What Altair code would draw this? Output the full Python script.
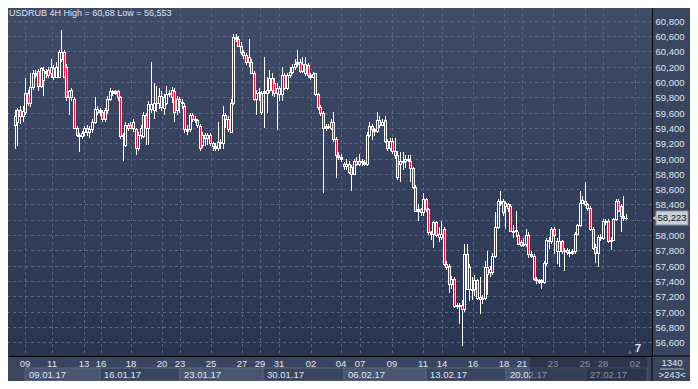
import altair as alt
import pandas as pd

# ---- candles: (open, high, low, close), 4H bars, grouped by week ----
jan09 = [
    (59.55, 59.63, 59.12, 59.44), (59.48, 59.66, 59.16, 59.63), (59.63, 59.68, 59.45, 59.55),
    (59.55, 59.69, 59.48, 59.62), (59.61, 60.05, 59.57, 59.85), (59.85, 59.90, 59.68, 59.73),
    (59.73, 60.12, 59.67, 59.94), (59.94, 60.15, 59.90, 60.11), (60.11, 60.16, 60.05, 60.09),
    (60.14, 60.17, 59.88, 59.95), (59.95, 60.20, 59.92, 60.18), (60.02, 60.20, 59.82, 60.16),
    (60.14, 60.17, 60.05, 60.12), (60.16, 60.20, 60.05, 60.09), (60.11, 60.30, 60.05, 60.20),
    (60.18, 60.22, 60.02, 60.07), (60.07, 60.26, 60.05, 60.20), (60.07, 60.42, 60.05, 60.39),
    (60.30, 60.68, 60.26, 60.39), (60.39, 60.42, 60.05, 60.07), (60.20, 60.24, 59.75, 59.80),
    (59.80, 59.90, 59.57, 59.88), (59.90, 59.92, 59.75, 59.80), (59.78, 59.80, 59.38, 59.40),
    (59.40, 59.42, 59.28, 59.31), (59.31, 59.33, 59.08, 59.29), (59.29, 59.36, 59.25, 59.33),
    (59.35, 59.42, 59.30, 59.40), (59.40, 59.44, 59.30, 59.35), (59.35, 59.43, 59.27, 59.38),
    (59.38, 59.52, 59.33, 59.48), (59.48, 59.80, 59.45, 59.65), (59.65, 59.68, 59.57, 59.61),
]
jan16 = [
    (59.61, 59.66, 59.55, 59.63), (59.61, 59.63, 59.48, 59.52), (59.52, 59.66, 59.48, 59.63),
    (59.63, 59.82, 59.58, 59.78), (59.78, 59.92, 59.75, 59.88), (59.88, 59.90, 59.82, 59.86),
    (59.86, 59.90, 59.83, 59.88), (59.88, 59.90, 59.75, 59.80), (59.80, 59.82, 59.25, 59.29),
    (59.29, 59.33, 58.97, 59.31), (59.18, 59.48, 59.15, 59.44), (59.44, 59.46, 59.36, 59.40),
    (59.44, 59.48, 59.38, 59.40), (59.40, 59.52, 59.35, 59.48), (59.38, 59.40, 59.05, 59.14),
    (59.14, 59.35, 59.10, 59.31), (59.31, 59.44, 59.25, 59.40), (59.29, 59.61, 59.27, 59.57),
    (59.57, 59.60, 59.18, 59.40), (59.40, 59.75, 59.18, 59.71), (59.65, 60.26, 59.60, 59.71),
    (59.63, 59.99, 59.52, 59.73), (59.73, 59.95, 59.61, 59.72), (59.72, 59.92, 59.65, 59.82),
    (59.82, 59.88, 59.62, 59.67), (59.66, 59.84, 59.57, 59.80), (59.73, 59.95, 59.70, 59.84),
    (59.84, 59.90, 59.80, 59.86), (59.90, 59.93, 59.72, 59.80), (59.88, 59.92, 59.48, 59.61),
    (59.63, 59.82, 59.57, 59.78),
]
jan23 = [
    (59.78, 59.80, 59.60, 59.75), (59.74, 59.78, 59.65, 59.72), (59.69, 59.72, 59.33, 59.38),
    (59.38, 59.44, 59.31, 59.36), (59.38, 59.60, 59.34, 59.57), (59.57, 59.60, 59.48, 59.52),
    (59.52, 59.56, 59.46, 59.50), (59.50, 59.52, 59.40, 59.44), (59.42, 59.45, 59.10, 59.14),
    (59.18, 59.35, 59.14, 59.31), (59.31, 59.33, 59.16, 59.27), (59.27, 59.33, 59.18, 59.31),
    (59.31, 59.33, 59.16, 59.20), (59.20, 59.22, 59.10, 59.16), (59.16, 59.20, 59.10, 59.14),
    (59.14, 59.48, 59.10, 59.22), (59.22, 59.25, 59.12, 59.20), (59.20, 59.69, 59.12, 59.57),
    (59.57, 59.60, 59.40, 59.52), (59.52, 59.55, 59.35, 59.38), (59.35, 59.78, 59.33, 59.73),
    (59.73, 60.62, 59.70, 60.58), (60.58, 60.62, 60.52, 60.56), (60.56, 60.60, 60.45, 60.47),
    (60.47, 60.52, 60.35, 60.39), (60.39, 60.42, 60.30, 60.35), (60.35, 60.38, 60.22, 60.26),
    (60.26, 60.56, 60.20, 60.33), (60.26, 60.30, 60.10, 60.12), (60.12, 60.14, 59.75, 59.78),
    (59.78, 59.90, 59.57, 59.86), (59.86, 59.92, 59.75, 59.87),
]
jan30 = [
    (59.86, 59.88, 59.57, 59.61), (59.86, 60.33, 59.40, 59.88), (59.86, 60.07, 59.59, 59.90),
    (59.90, 60.15, 59.86, 60.05), (60.05, 60.12, 59.82, 59.90), (59.99, 60.05, 59.80, 59.86),
    (59.86, 59.98, 59.37, 59.92), (59.92, 59.95, 59.75, 59.84), (59.84, 60.20, 59.75, 60.09),
    (60.09, 60.12, 59.90, 59.92), (59.92, 60.12, 59.90, 60.09), (60.09, 60.20, 60.05, 60.13),
    (60.13, 60.24, 60.10, 60.20), (60.20, 60.30, 60.15, 60.24), (60.24, 60.42, 60.20, 60.26),
    (60.26, 60.30, 60.12, 60.14), (60.14, 60.33, 60.12, 60.24), (60.24, 60.33, 60.08, 60.11),
    (60.22, 60.25, 60.05, 60.09), (60.09, 60.12, 60.03, 60.07), (60.07, 60.13, 60.05, 60.10),
    (60.11, 60.12, 59.82, 59.84), (59.84, 59.86, 59.63, 59.67), (59.67, 59.70, 59.55, 59.59),
    (59.59, 59.62, 58.55, 59.40), (59.40, 59.45, 59.36, 59.42), (59.42, 59.45, 59.38, 59.41),
    (59.40, 59.52, 59.37, 59.48), (59.48, 59.61, 59.22, 59.25), (59.25, 59.28, 58.74, 59.04),
    (59.04, 59.08, 58.98, 59.02), (59.02, 59.06, 58.96, 59.00),
]
feb06 = [
    (58.93, 58.95, 58.85, 58.90), (58.90, 59.00, 58.85, 58.93), (58.93, 58.97, 58.80, 58.83),
    (58.89, 58.91, 58.57, 58.80), (58.80, 59.00, 58.78, 58.97), (58.97, 59.02, 58.90, 58.93),
    (58.93, 59.06, 58.90, 58.97), (58.97, 58.99, 58.90, 58.95), (58.95, 58.98, 58.90, 58.93),
    (58.93, 59.34, 58.90, 59.31), (59.31, 59.48, 59.28, 59.42), (59.42, 59.45, 59.24, 59.38),
    (59.38, 59.40, 59.30, 59.36), (59.36, 59.61, 59.33, 59.50), (59.50, 59.55, 59.40, 59.44),
    (59.44, 59.52, 59.42, 59.48), (59.50, 59.55, 59.20, 59.23), (59.23, 59.25, 59.10, 59.14),
    (59.14, 59.27, 59.10, 59.23), (59.23, 59.27, 59.06, 59.10), (59.10, 59.27, 59.00, 59.04),
    (59.04, 59.10, 58.72, 58.76), (58.93, 59.08, 58.70, 58.97), (58.95, 59.08, 58.85, 58.97),
    (58.97, 59.04, 58.87, 59.00), (59.00, 59.04, 58.95, 58.98), (58.97, 59.04, 58.70, 58.87),
    (58.87, 58.89, 58.60, 58.63), (58.63, 58.65, 58.30, 58.32), (58.32, 58.40, 58.19, 58.34),
    (58.34, 58.36, 58.25, 58.30), (58.30, 58.55, 58.25, 58.47),
]
feb13 = [
    (58.47, 58.49, 58.30, 58.34), (58.34, 58.36, 58.00, 58.04), (58.04, 58.06, 57.94, 58.02),
    (58.02, 58.19, 57.83, 58.17), (58.17, 58.19, 57.98, 58.00), (58.02, 58.11, 57.91, 57.98),
    (57.98, 58.19, 57.94, 58.02), (58.08, 58.11, 57.60, 57.62), (57.62, 57.66, 57.55, 57.58),
    (57.60, 57.62, 57.24, 57.36), (57.36, 57.47, 57.30, 57.43), (57.43, 57.45, 57.05, 57.07),
    (57.07, 57.12, 57.03, 57.09), (57.09, 57.11, 56.84, 57.07), (57.09, 57.15, 56.553, 57.03),
    (57.03, 57.88, 57.00, 57.75), (57.75, 57.89, 57.28, 57.30), (57.30, 57.62, 57.14, 57.58),
    (57.30, 57.45, 57.15, 57.28), (57.30, 57.48, 57.20, 57.41), (57.41, 57.43, 57.15, 57.18),
    (57.19, 57.45, 56.97, 57.16), (57.16, 57.22, 57.10, 57.18), (57.18, 57.66, 57.15, 57.58),
    (57.58, 57.79, 57.22, 57.49), (57.56, 57.60, 57.45, 57.52), (57.52, 57.77, 57.48, 57.73),
    (57.73, 58.30, 57.70, 58.11), (58.11, 58.47, 58.08, 58.44), (58.44, 58.57, 58.38, 58.42),
    (58.44, 58.47, 58.25, 58.30),
]
feb20 = [
    (58.42, 58.44, 58.08, 58.38), (58.40, 58.42, 58.30, 58.36), (58.38, 58.40, 58.04, 58.06),
    (58.06, 58.13, 57.96, 58.04), (58.05, 58.32, 57.98, 58.07), (58.00, 58.04, 57.87, 57.89),
    (57.91, 57.93, 57.85, 57.87), (57.87, 57.96, 57.85, 57.89), (57.89, 58.08, 57.85, 58.00),
    (58.00, 58.04, 57.70, 57.75), (57.75, 57.79, 57.70, 57.73), (57.73, 57.75, 57.40, 57.43),
    (57.43, 57.45, 57.36, 57.41), (57.41, 57.43, 57.36, 57.39), (57.39, 57.43, 57.30, 57.41),
    (57.39, 57.66, 57.36, 57.64), (57.64, 57.96, 57.60, 57.94), (57.94, 57.98, 57.82, 57.92),
    (57.92, 58.10, 57.89, 58.08), (58.08, 58.10, 57.75, 58.00), (57.92, 57.96, 57.62, 57.79),
    (57.79, 58.08, 57.58, 57.92), (57.92, 57.94, 57.75, 57.79), (57.79, 57.83, 57.53, 57.81),
    (57.81, 57.83, 57.74, 57.78), (57.78, 57.82, 57.72, 57.77), (57.77, 57.82, 57.74, 57.79),
    (57.79, 58.04, 57.76, 58.02), (58.02, 58.15, 58.00, 58.13), (58.13, 58.57, 58.10, 58.42),
    (58.42, 58.51, 58.40, 58.46),
]
feb27 = [
    (58.44, 58.70, 58.38, 58.40), (58.40, 58.42, 58.32, 58.36), (58.36, 58.38, 58.06, 58.08),
    (58.08, 58.10, 57.80, 57.83), (57.85, 57.88, 57.64, 57.77), (57.77, 58.00, 57.58, 57.98),
    (57.98, 58.02, 57.92, 57.96), (57.96, 58.21, 57.94, 58.19), (58.19, 58.21, 58.13, 58.17),
    (58.19, 58.21, 57.90, 57.92), (57.92, 57.98, 57.81, 57.94), (57.94, 58.23, 57.92, 58.21),
    (58.21, 58.47, 58.19, 58.44), (58.44, 58.47, 58.30, 58.32), (58.38, 58.40, 58.04, 58.25),
    (58.25, 58.51, 58.19, 58.23), (58.23, 58.27, 58.20, 58.223),
]

# ---- axis texts ----
day_labels = ["09", "11", "13", "16", "18", "20", "23", "25", "27", "29", "31", "02",
              "04", "07", "09", "11", "14", "16", "18", "21", "23", "25", "28", "02"]
day_bars = [5.0, 15.3, 27.9, 34.7, 46.1, 58.1, 65.4, 77.4, 89.5, 96.6, 103.9, 116.3,
            128.2, 135.5, 147.9, 160.1, 167.3, 179.4, 191.6, 198.6, 210.6, 223.2, 230.2, 242.6]
week_labels = ["09.01.17", "16.01.17", "23.01.17", "30.01.17",
               "06.02.17", "13.02.17", "20.02.17", "27.02.17"]
week_start = [4.8, 34.3, 65.4, 97.6, 129.0, 161.2, 192.3, 223.3]
week_end = [34.3, 65.4, 97.6, 129.0, 161.2, 192.3, 223.3, 247.2]
week_light = [True, False, True, False, True, False, True, False]
price_grid = [56.6, 56.8, 57.0, 57.2, 57.4, 57.6, 57.8, 58.0, 58.2, 58.4, 58.6,
              58.8, 59.0, 59.2, 59.4, 59.6, 59.8, 60.0, 60.2, 60.4, 60.6, 60.8]
price_labels = [56.6, 56.8, 57.0, 57.2, 57.4, 57.6, 57.8, 58.0, 58.4, 58.6,
                58.8, 59.0, 59.2, 59.4, 59.6, 59.8, 60.0, 60.2, 60.4, 60.6, 60.8]
last_price = 58.223
title_text = "USDRUB 4H High = 60,68 Low = 56,553"
corner_top = "1340"
corner_bottom = ">243<"
shaded_from = 201.8

W, H = 644, 348
FONT = "Liberation Sans"
LABEL = "#dfe5ee"
PANEL = "#3a4660"

bars = jan09 + jan16 + jan23 + jan30 + feb06 + feb13 + feb20 + feb27
df = pd.DataFrame(bars, columns=["open", "high", "low", "close"])
df["bar"] = range(1, len(df) + 1)
df["bear"] = df["close"] < df["open"]
df["top"] = df[["open", "close"]].max(axis=1)
df["bottom"] = df[["open", "close"]].min(axis=1)

xs = alt.Scale(domain=[0.25, 247.2], nice=False, zero=False, round=True)
ys = alt.Scale(domain=[56.422, 60.965], nice=False, zero=False, round=True)
one = pd.DataFrame({"a": [0]})

x_axis = alt.Axis(orient="bottom", labels=False, ticks=False, grid=False,
                  title=None, domainColor="#000000", domainWidth=1)
y_axis = alt.Axis(orient="right", values=price_labels, grid=False, ticks=False,
                  title=None, domainColor="#000000", domainWidth=1,
                  labelColor=LABEL, labelFont=FONT, labelFontSize=9.5,
                  labelPadding=3,
                  labelExpr="replace(format(datum.value, '.3f'), '.', ',')")

bg = alt.Chart(one).mark_rect(
    fill=alt.LinearGradient(
        gradient="linear", x1=0, x2=0, y1=0, y2=1,
        stops=[alt.GradientStop(color="#3f4b67", offset=0),
               alt.GradientStop(color="#2a3551", offset=1)])
).encode(x=alt.value(0), x2=alt.value(W), y=alt.value(0), y2=alt.value(H))

hgrid = alt.Chart(pd.DataFrame({"p": price_grid})).mark_rule(
    color="#56647f", strokeDash=[3, 3], strokeWidth=1, yOffset=0.5
).encode(y=alt.Y("p:Q", scale=ys, axis=y_axis))

vgrid = alt.Chart(pd.DataFrame({"b": day_bars})).mark_rule(
    color="#56647f", strokeDash=[3, 3], strokeWidth=1, xOffset=0.5
).encode(x=alt.X("b:Q", scale=xs, axis=x_axis), y=alt.value(0), y2=alt.value(H))

wicks = alt.Chart(df).mark_rule(color="white", strokeWidth=1, xOffset=0.5).encode(
    x=alt.X("bar:Q", scale=xs, axis=x_axis),
    y=alt.Y("low:Q", scale=ys, axis=y_axis),
    y2="high:Q",
)

body_out = alt.Chart(df).mark_bar(size=3, xOffset=0.5, y2Offset=1, color="white").encode(
    x=alt.X("bar:Q", scale=xs, axis=x_axis),
    y=alt.Y("top:Q", scale=ys, axis=y_axis),
    y2="bottom:Q",
)

body_in = alt.Chart(df).transform_filter(
    "datum.top - datum.bottom >= 0.027"
).mark_bar(size=1, xOffset=0.5, yOffset=1).encode(
    x=alt.X("bar:Q", scale=xs, axis=x_axis),
    y=alt.Y("top:Q", scale=ys, axis=y_axis),
    y2="bottom:Q",
    color=alt.condition("datum.bear", alt.value("#e8173f"), alt.value("#34405b")),
)

title = alt.Chart(pd.DataFrame({"t": [title_text]})).mark_text(
    align="left", baseline="middle", font=FONT, fontSize=9, color=LABEL
).encode(x=alt.value(1), y=alt.value(5), text="t:N")

wk = pd.DataFrame({"s": week_start, "e": week_end, "lab": week_labels, "light": week_light})
week_boxes = alt.Chart(wk).mark_rect(stroke="#5b6781", strokeWidth=1).encode(
    x=alt.X("s:Q", scale=xs, axis=x_axis), x2="e:Q",
    y=alt.value(H + 12), y2=alt.value(H + 25),
    fill=alt.condition("datum.light", alt.value("#4a5671"), alt.value(PANEL)),
)
week_text = alt.Chart(wk).mark_text(
    align="left", baseline="middle", dx=4, font=FONT, fontSize=9.5, color=LABEL
).encode(x=alt.X("s:Q", scale=xs, axis=x_axis), y=alt.value(H + 19), text="lab:N")

day_text = alt.Chart(pd.DataFrame({"b": day_bars, "lab": day_labels})).mark_text(
    align="center", baseline="middle", font=FONT, fontSize=9.5, color=LABEL
).encode(x=alt.X("b:Q", scale=xs, axis=x_axis), y=alt.value(H + 8), text="lab:N")

shade = alt.Chart(pd.DataFrame({"s": [shaded_from], "e": [247.2]})).mark_rect(
    fill="#1b2233", opacity=0.45
).encode(x=alt.X("s:Q", scale=xs, axis=x_axis), x2="e:Q",
         y=alt.value(H + 1), y2=alt.value(H + 25))

lp = pd.DataFrame({"p": [last_price], "lab": ["58,223"]})
tag_box = alt.Chart(lp).mark_rect(
    fill="#c9ced7", stroke="#8d96a6", strokeWidth=1, yOffset=-7, y2Offset=7
).encode(x=alt.value(W + 4), x2=alt.value(W + 36),
         y=alt.Y("p:Q", scale=ys, axis=y_axis), y2="p:Q")
tag_arrow = alt.Chart(lp).mark_point(
    shape="triangle-left", filled=True, size=40, color="#c9ced7", opacity=1
).encode(x=alt.value(W + 3), y=alt.Y("p:Q", scale=ys, axis=y_axis))
tag_text = alt.Chart(lp).mark_text(
    align="center", baseline="middle", font=FONT, fontSize=9.5, color="#10151f"
).encode(x=alt.value(W + 20), y=alt.Y("p:Q", scale=ys, axis=y_axis), text="lab:N")

corner_text1 = alt.Chart(pd.DataFrame({"t": [corner_top]})).mark_text(
    align="center", baseline="middle", font=FONT, fontSize=9.5, color=LABEL
).encode(x=alt.value(W + 20), y=alt.value(H + 7), text="t:N")
corner_text2 = alt.Chart(pd.DataFrame({"t": [corner_bottom]})).mark_text(
    align="center", baseline="middle", font=FONT, fontSize=9.5, color=LABEL
).encode(x=alt.value(W + 20), y=alt.value(H + 19), text="t:N")
corner_line = alt.Chart(one).mark_rule(color="#aab3c2").encode(
    x=alt.value(W + 8), x2=alt.value(W + 32), y=alt.value(H + 13))
sep_v = alt.Chart(one).mark_rule(color="#000000").encode(
    x=alt.value(W), y=alt.value(H), y2=alt.value(H + 25))
sep_h = alt.Chart(one).mark_rule(color="#000000").encode(
    x=alt.value(W), x2=alt.value(W + 38), y=alt.value(H))

marker = alt.Chart(pd.DataFrame({"t": ["7"]})).mark_text(
    align="center", baseline="middle", font=FONT, fontSize=11, fontWeight="bold", color="#e8edf4"
).encode(x=alt.value(630), y=alt.value(341), text="t:N")
marker_tri = alt.Chart(one).mark_point(
    shape="triangle-up", filled=True, size=18, color="#5f6b83", opacity=1
).encode(x=alt.value(622), y=alt.value(344))

chart = alt.layer(
    bg, hgrid, vgrid, wicks, body_out, body_in, title, marker_tri, marker,
    week_boxes, week_text, day_text, shade,
    tag_arrow, tag_box, tag_text, corner_line, corner_text1, corner_text2, sep_v, sep_h,
).properties(
    width=W, height=H,
    autosize=alt.AutoSizeParams(type="none"),
    padding={"left": 0, "top": 0, "right": 38, "bottom": 25},
    background=PANEL,
).configure_view(stroke=None)

chart.save("out.html", embed_options={"renderer": "svg", "actions": False})
